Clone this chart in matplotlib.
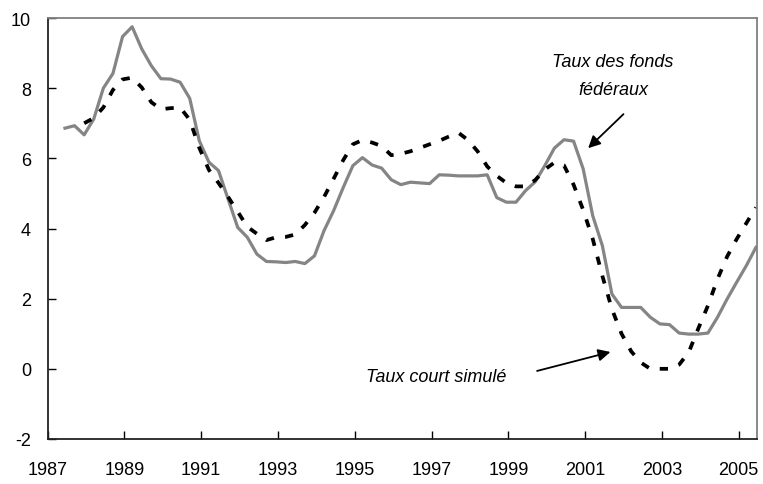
#!/usr/bin/env python3
"""Federal funds rate vs. simulated short rate, quarterly, 1987-2005."""
import numpy as np
import matplotlib

matplotlib.use("Agg")
import matplotlib.pyplot as plt

plt.rcParams["font.family"] = ["Liberation Sans", "DejaVu Sans"]
plt.rcParams["axes.unicode_minus"] = False

# quarterly observations, first one in mid-1987
START_YEAR = 1987.45
STEP = 0.25

fed_funds = [
    6.86, 6.93, 6.67, 7.12, 8.00, 8.42, 9.47, 9.75, 9.12, 8.64,
    8.27, 8.26, 8.17, 7.71, 6.50, 5.89, 5.65, 4.84, 4.03, 3.75,
    3.27, 3.06, 3.05, 3.03, 3.06, 3.00, 3.22, 3.94, 4.51, 5.17,
    5.79, 6.02, 5.81, 5.72, 5.39, 5.25, 5.32, 5.30, 5.28, 5.53,
    5.52, 5.50, 5.50, 5.50, 5.53, 4.88, 4.75, 4.75, 5.08, 5.33,
    5.79, 6.29, 6.53, 6.49, 5.70, 4.36, 3.51, 2.13, 1.75, 1.75,
    1.75, 1.47, 1.28, 1.26, 1.02, 0.99, 0.99, 1.02, 1.47, 1.99,
    2.47, 2.94, 3.46,
]

# simulated rate starts two quarters later
simulated = [
    np.nan, np.nan,
    7.00, 7.15, 7.45, 7.95, 8.25, 8.30, 8.02, 7.60, 7.40, 7.43,
    7.45, 7.10, 6.30, 5.67, 5.30, 4.90, 4.48, 4.05, 3.85, 3.67,
    3.75, 3.76, 3.83, 4.10, 4.45, 4.90, 5.42, 5.95, 6.40, 6.52,
    6.45, 6.35, 6.09, 6.13, 6.20, 6.30, 6.40, 6.50, 6.62, 6.73,
    6.52, 6.20, 5.77, 5.50, 5.30, 5.20, 5.20, 5.38, 5.68, 5.88,
    5.80, 5.25, 4.53, 3.70, 2.65, 1.70, 1.00, 0.50, 0.18, 0.00,
    0.00, 0.00, 0.12, 0.47, 1.15, 1.80, 2.56, 3.20, 3.70, 4.15,
    4.60,
]

year_ticks = list(range(1987, 2006, 2))
rate_ticks = [-2, 0, 2, 4, 6, 8, 10]

t = START_YEAR + STEP * np.arange(len(fed_funds))

fig = plt.figure(figsize=(7.63, 4.85), dpi=100)
ax = fig.add_axes((0.0625, 0.0928, 0.9292, 0.868))

ax.plot(t, fed_funds, color="#858585", lw=2.3, solid_joinstyle="round")
ax.plot(t, simulated, color="black", lw=2.7, dashes=(2.2, 3.0))

ax.set_xlim(1987, t[-1] + 0.02)
ax.set_ylim(-2, 10)
ax.set_xticks(year_ticks)
ax.set_yticks(rate_ticks)
ax.tick_params(axis="both", direction="in", length=6, width=1, labelsize=13)
ax.tick_params(axis="x", pad=16)
ax.tick_params(axis="y", pad=12)

for side in ("left", "bottom"):
    ax.spines[side].set_color("#222222")
    ax.spines[side].set_linewidth(1.3)
for side in ("top", "right"):
    ax.spines[side].set_color("#808080")
    ax.spines[side].set_linewidth(1.3)

arrow = dict(arrowstyle="-|>", color="black", lw=1.3, mutation_scale=18,
             shrinkA=0, shrinkB=0)
ax.text(2001.73, 8.77, "Taux des fonds", style="italic", fontsize=13,
        ha="center", va="center")
ax.text(2001.73, 7.95, "fédéraux", style="italic", fontsize=13,
        ha="center", va="center")
ax.annotate("", xy=(2001.08, 6.29), xytext=(2002.0, 7.26), arrowprops=arrow)

ax.text(1998.94, -0.22, "Taux court simulé", style="italic", fontsize=13,
        ha="right", va="center")
ax.annotate("", xy=(2001.66, 0.48), xytext=(1999.75, -0.06), arrowprops=arrow)

fig.savefig("out.png", dpi=100)
